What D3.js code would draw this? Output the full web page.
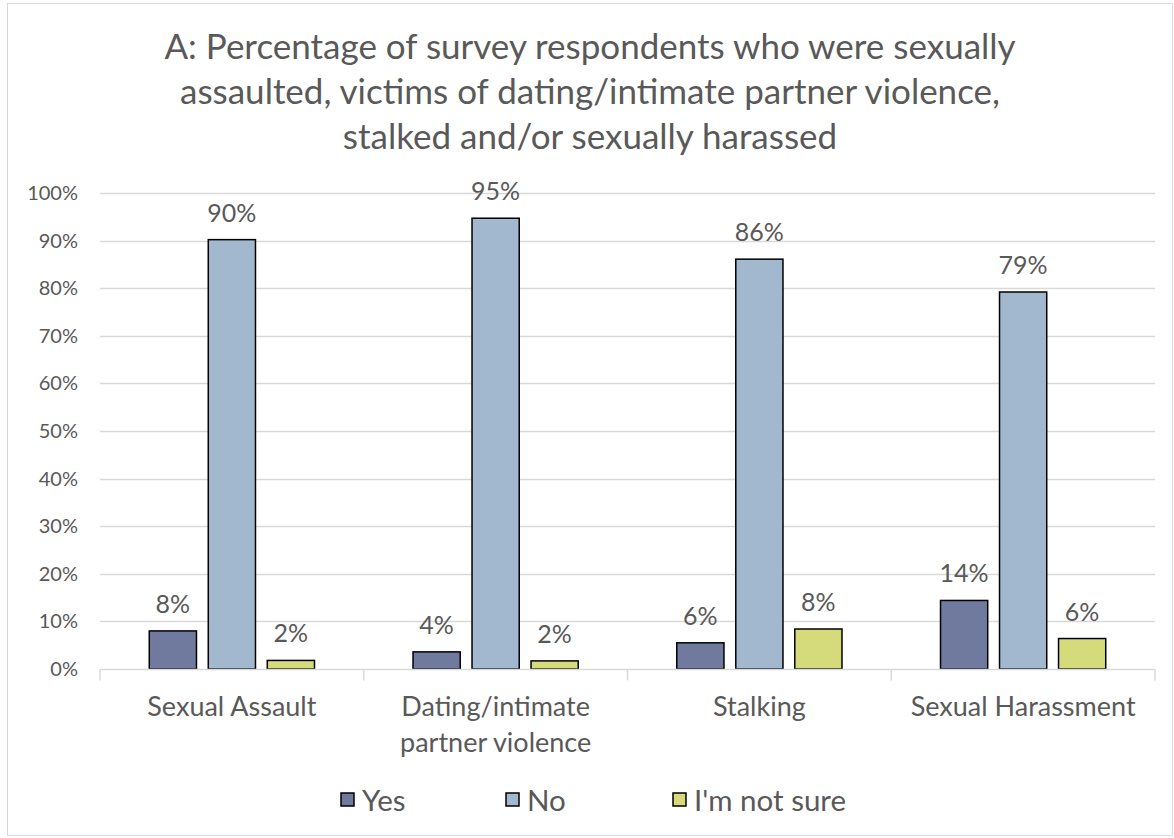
<!DOCTYPE html>
<html>
<head>
<meta charset="utf-8">
<script src="https://cdn.jsdelivr.net/npm/d3@7"></script>
<style>
  body { margin: 0; background: #fff; }
  text { font-family: Lato, "Open Sans", sans-serif; fill: #595959; }
</style>
</head>
<body>
<div id="chart"></div>
<script>
const categories = [["Sexual Assault"], ["Dating/intimate", "partner violence"], ["Stalking"], ["Sexual Harassment"]]
const seriesNames = ["Yes", "No", "I'm not sure"]
const yesValues = [8.0, 3.6, 5.5, 14.4]
const noValues = [90.2, 94.7, 86.1, 79.2]
const notSureValues = [1.8, 1.7, 8.4, 6.4]
const colors = ["#6f7a9e", "#a1b8cf", "#d5db7b"]
const yTicks = [0, 10, 20, 30, 40, 50, 60, 70, 80, 90, 100]
const titleLines = ["A: Percentage of survey respondents who were sexually",
    "assaulted, victims of dating/intimate partner violence,",
    "stalked and/or sexually harassed"]

const width = 1174, height = 838
const margin = { top: 193, right: 19, bottom: 169, left: 100 }

const svg = d3.select("#chart").append("svg")
    .attr("width", width)
    .attr("height", height)

// outer frame
svg.append("rect")
    .attr("x", 7.5).attr("y", 3.5)
    .attr("width", width - 9).attr("height", height - 6)
    .attr("fill", "#fff").attr("stroke", "#d9d9d9")

// title
svg.append("text")
    .attr("text-anchor", "middle")
    .style("font-size", "35px")
    .selectAll("tspan")
    .data(titleLines)
    .enter().append("tspan")
    .attr("x", 590)
    .attr("y", (d, i) => 59 + i * 45)
    .text(d => d)

const x0 = d3.scaleBand()
    .domain(d3.range(categories.length))
    .range([margin.left, width - margin.right])

const x1 = d3.scaleBand()
    .domain(d3.range(seriesNames.length))
    .range([0, x0.bandwidth()])
    .paddingInner(0.2)
    .paddingOuter(0.835)

const y = d3.scaleLinear()
    .domain([0, 100])
    .range([height - margin.bottom, margin.top])

// gridlines
svg.append("g")
    .selectAll("line")
    .data(yTicks.slice(1))
    .enter().append("line")
    .attr("x1", margin.left).attr("x2", width - margin.right)
    .attr("y1", d => Math.round(y(d)) + 0.5).attr("y2", d => Math.round(y(d)) + 0.5)
    .attr("stroke", "#d9d9d9").attr("stroke-width", 1.5)

// y axis labels
svg.append("g")
    .selectAll("text")
    .data(yTicks)
    .enter().append("text")
    .attr("x", 78)
    .attr("y", d => y(d) + 7)
    .attr("text-anchor", "end")
    .style("font-size", "20px")
    .text(d => d + "%")

const data = categories.map((c, i) => [yesValues[i], noValues[i], notSureValues[i]])

// bars
const groups = svg.append("g")
    .selectAll("g")
    .data(data)
    .enter().append("g")
    .attr("transform", (d, i) => `translate(${x0(i)},0)`)

groups.selectAll("rect")
    .data(d => d)
    .enter().append("rect")
    .attr("x", (d, j) => x1(j))
    .attr("y", d => y(d))
    .attr("width", x1.bandwidth())
    .attr("height", d => y(0) - y(d))
    .attr("fill", (d, j) => colors[j])
    .attr("stroke", "#000").attr("stroke-width", 1.5)

groups.selectAll(".lbl")
    .data(d => d)
    .enter().append("text")
    .attr("class", "lbl")
    .attr("x", (d, j) => x1(j) + x1.bandwidth() / 2)
    .attr("y", d => y(d) - 18)
    .attr("text-anchor", "middle")
    .style("font-size", "25px")
    .text(d => Math.round(d) + "%")

// x axis
const baseY = Math.round(y(0)) + 0.5
svg.append("line")
    .attr("x1", margin.left).attr("x2", width - margin.right)
    .attr("y1", baseY).attr("y2", baseY)
    .attr("stroke", "#d9d9d9").attr("stroke-width", 1.5)

svg.append("g")
    .selectAll("line")
    .data(d3.range(categories.length + 1))
    .enter().append("line")
    .attr("x1", i => i < categories.length ? x0(i) : width - margin.right)
    .attr("x2", i => i < categories.length ? x0(i) : width - margin.right)
    .attr("y1", baseY).attr("y2", baseY + 11)
    .attr("stroke", "#d9d9d9").attr("stroke-width", 1.5)

svg.append("g")
    .selectAll("text")
    .data(categories)
    .enter().append("text")
    .attr("text-anchor", "middle")
    .style("font-size", "27px")
    .each(function (d, i) {
        d3.select(this).selectAll("tspan")
            .data(d)
            .enter().append("tspan")
            .attr("x", x0(i) + x0.bandwidth() / 2)
            .attr("y", (t, k) => 716 + k * 36)
            .text(t => t)
    })

// legend
const legendX = [341, 506, 673]
const legend = svg.append("g")
    .selectAll("g")
    .data(seriesNames)
    .enter().append("g")
    .attr("transform", (d, i) => `translate(${legendX[i]},793)`)

legend.append("rect")
    .attr("width", 13).attr("height", 13)
    .attr("fill", (d, i) => colors[i])
    .attr("stroke", "#000").attr("stroke-width", 1.5)

legend.append("text")
    .attr("x", 21).attr("y", 18)
    .style("font-size", "29.5px")
    .text(d => d)
</script>
</body>
</html>
